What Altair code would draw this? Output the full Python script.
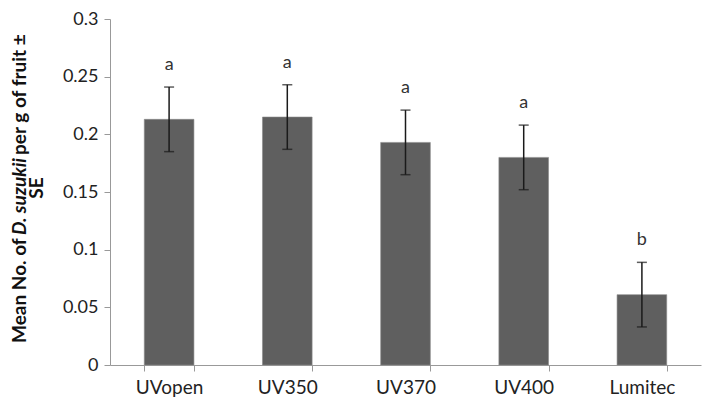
import altair as alt
import pandas as pd

categories = ["UVopen", "UV350", "UV370", "UV400", "Lumitec"]
means = [0.213, 0.215, 0.193, 0.180, 0.061]
se = [0.028, 0.028, 0.028, 0.028, 0.028]
letters = ["a", "a", "a", "a", "b"]

df = pd.DataFrame({
    "cat": categories,
    "mean": means,
    "lo": [m - s for m, s in zip(means, se)],
    "hi": [m + s for m, s in zip(means, se)],
    "letter": letters,
})

FONT = "Lato"
TOP = 19  # page y of plot top
LEFT = 110

x = alt.X("cat:N", sort=categories, title=None,
          scale=alt.Scale(paddingInner=0.58, paddingOuter=0.29),
          axis=alt.Axis(tickBand="extent", labelAngle=0, labelFontSize=19,
                        labelFont=FONT, labelColor="#222", labelPadding=7,
                        domainColor="#999", tickColor="#999", tickSize=6))
y = alt.Y("mean:Q", title=None,
          scale=alt.Scale(domain=[0, 0.3], nice=False),
          axis=alt.Axis(values=[0, 0.05, 0.1, 0.15, 0.2, 0.25, 0.3], grid=False,
                        labelFontSize=18, labelFont=FONT, labelColor="#222",
                        labelPadding=6, domainColor="#999", tickColor="#999",
                        tickSize=6, format="~g"))

bars = alt.Chart(df).mark_bar(color="#5f5f5f", stroke="#8a8a8a", strokeWidth=0.6).encode(x=x, y=y)
err = alt.Chart(df).mark_rule(color="#1a1a1a", strokeWidth=1.5).encode(
    x=alt.X("cat:N", sort=categories), y="lo:Q", y2="hi:Q")
caps_hi = alt.Chart(df).mark_tick(color="#1a1a1a", size=10, thickness=1.5).encode(
    x=alt.X("cat:N", sort=categories), y="hi:Q")
caps_lo = alt.Chart(df).mark_tick(color="#1a1a1a", size=10, thickness=1.5).encode(
    x=alt.X("cat:N", sort=categories), y="lo:Q")
labels = alt.Chart(df).mark_text(fontSize=18, font=FONT, color="#333", dy=-13,
                                 baseline="bottom").encode(
    x=alt.X("cat:N", sort=categories), y="hi:Q", text="letter:N")

tdf = pd.DataFrame({"t": [0]})
def seg(txt, yv, xv, style="normal", align="left"):
    return alt.Chart(tdf).mark_text(text=txt, angle=270, font=FONT, fontSize=19,
                                    fontWeight="bold", fontStyle=style, align=align,
                                    baseline="middle", color="#111").encode(
        x=alt.value(xv - LEFT), y=alt.value(yv - TOP))

t1 = seg("Mean No. of", 343, 20)
t2 = seg("D. suzukii", 235, 20, style="italic")
t3 = seg("per g of fruit ±", 155, 20)
t4 = seg("SE", 188, 37, align="center")

chart = alt.layer(bars, err, caps_hi, caps_lo, labels, t1, t2, t3, t4).properties(
    width=591, height=365 - TOP,
    autosize=alt.AutoSizeParams(type="none"),
    padding={"left": LEFT - 8, "top": TOP - 8, "right": 3, "bottom": 35},
).configure_view(stroke=None)

chart.save("out.html", embed_options={"renderer": "svg", "actions": False})
